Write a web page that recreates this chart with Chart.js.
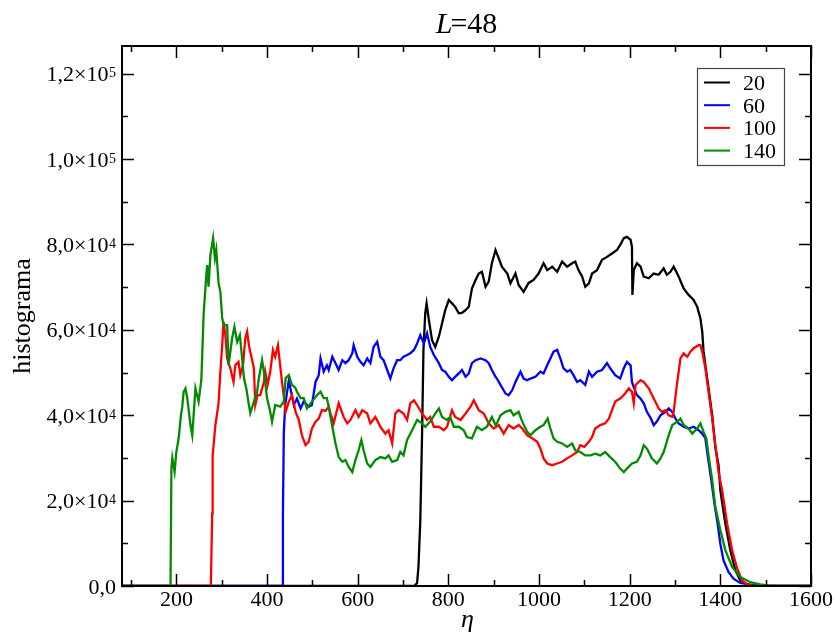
<!DOCTYPE html>
<html>
<head>
<meta charset="utf-8">
<script src="https://cdn.jsdelivr.net/npm/chart.js@4.4.1/dist/chart.umd.min.js"></script>
<style>
  body { margin: 0; background: #fff; }
  canvas { display: block; }
</style>
</head>
<body>
<canvas id="chart" width="836" height="633"></canvas>
<script>
// eta values and histogram counts, one pair of arrays per series
const eta20 = [80, 725, 731, 734, 738, 742, 745, 749, 752, 757,
  764, 771, 779, 786, 793, 801, 808, 815, 823, 830,
  838, 845, 852, 860, 867, 874, 882, 889, 896, 904,
  911, 918, 930, 937, 948, 955, 966, 977, 988, 999,
  1010, 1018, 1029, 1040, 1051, 1062, 1073, 1080, 1087, 1095,
  1102, 1110, 1117, 1128, 1139, 1150, 1161, 1172, 1179, 1187,
  1194, 1202, 1205, 1206, 1209, 1216, 1224, 1231, 1242, 1253,
  1264, 1275, 1282, 1290, 1297, 1308, 1319, 1330, 1341, 1349,
  1356, 1360, 1363, 1367, 1374, 1382, 1389, 1396, 1400, 1411,
  1422, 1433, 1444, 1459, 1475, 1600];
const h20 = [0, 0, 700, 4500, 15000, 35700, 55300, 63900, 66200, 62300,
  57600, 56000, 58400, 61500, 64600, 67000, 66200, 65400, 63900, 64000,
  64600, 65400, 69700, 71700, 73200, 73600, 70100, 71300, 75600, 78700,
  76800, 74800, 73200, 70900, 73200, 70500, 68900, 71000, 71700, 73200,
  75600, 74000, 74800, 73600, 76000, 74800, 75600, 76000, 74000, 72500,
  70100, 70900, 73200, 74000, 76400, 77100, 77900, 78700, 79900, 81500,
  81800, 81100, 79500, 68200, 74000, 75600, 74800, 72500, 72100, 73200,
  72900, 74400, 72900, 73600, 74800, 72500, 69700, 68200, 67000, 65400,
  62700, 59600, 54900, 51700, 46300, 40000, 32500, 28300, 22400, 14600,
  8400, 3700, 1300, 400, 0, 0];

const eta60 = [80, 433, 435, 437, 440, 448, 453, 459, 466, 474,
  481, 492, 499, 507, 514, 518, 525, 532, 536, 544,
  551, 558, 566, 573, 580, 588, 591, 599, 606, 613,
  621, 628, 635, 643, 650, 657, 665, 672, 679, 687,
  694, 701, 709, 716, 724, 731, 738, 746, 753, 760,
  768, 779, 786, 793, 801, 808, 815, 823, 830, 838,
  845, 852, 860, 871, 882, 889, 896, 904, 907, 915,
  926, 933, 941, 948, 959, 966, 974, 981, 992, 1003,
  1010, 1018, 1025, 1032, 1040, 1047, 1054, 1062, 1069, 1076,
  1084, 1091, 1102, 1110, 1117, 1128, 1139, 1150, 1157, 1168,
  1179, 1187, 1194, 1202, 1205, 1210, 1216, 1224, 1231, 1238,
  1246, 1253, 1260, 1268, 1279, 1286, 1294, 1301, 1308, 1319,
  1330, 1341, 1352, 1360, 1367, 1372, 1379, 1387, 1394, 1400,
  1407, 1418, 1429, 1444, 1466, 1495, 1600];
const h60 = [0, 0, 17000, 36000, 42400, 48200, 45500, 42400, 43900, 41600,
  43200, 42000, 42400, 47800, 49400, 53300, 50200, 51700, 50600, 53700,
  52200, 50600, 52900, 52200, 52900, 54500, 56400, 53700, 52500, 51700,
  53300, 52200, 56000, 57200, 53700, 52900, 50600, 48600, 51000, 52900,
  52900, 53700, 54100, 54500, 55300, 56800, 58800, 56800, 59200, 56000,
  54100, 52200, 50600, 50200, 49000, 48200, 49000, 49800, 50600, 49000,
  49800, 52200, 52900, 53300, 52900, 52200, 50600, 49000, 48600, 47100,
  45100, 44700, 45900, 47800, 50200, 48600, 48200, 48600, 49000, 50200,
  49800, 51700, 53300, 54900, 55300, 53300, 51000, 50200, 50600, 49400,
  47800, 48200, 47100, 50200, 49000, 50200, 50600, 52200, 51000, 49400,
  48600, 51000, 52500, 51700, 47800, 46300, 44700, 43900, 42800, 40800,
  39400, 37700, 38500, 40000, 40800, 41600, 40800, 39200, 38100, 37300,
  36900, 37300, 36500, 35700, 34600, 30600, 25600, 19300, 14600, 9900,
  6000, 3300, 1700, 700, 330, 0, 0];

const eta100 = [80, 276, 279, 280, 286, 293, 297, 301, 304, 308,
  312, 319, 326, 330, 337, 341, 347, 352, 356, 360,
  363, 371, 374, 379, 385, 393, 396, 401, 407, 413,
  418, 424, 428, 433, 441, 448, 455, 463, 470, 477,
  485, 492, 499, 507, 514, 521, 529, 536, 540, 547,
  558, 569, 577, 584, 595, 602, 610, 621, 628, 639,
  650, 661, 668, 676, 683, 690, 701, 709, 716, 724,
  731, 742, 753, 760, 768, 779, 790, 797, 808, 815,
  827, 838, 849, 856, 867, 878, 889, 900, 911, 922,
  933, 944, 955, 963, 974, 985, 996, 1003, 1010, 1018,
  1029, 1040, 1051, 1062, 1073, 1084, 1091, 1100, 1110, 1117,
  1124, 1135, 1146, 1154, 1161, 1168, 1179, 1190, 1198, 1205,
  1209, 1213, 1224, 1231, 1242, 1253, 1264, 1271, 1279, 1286,
  1294, 1297, 1305, 1312, 1319, 1327, 1334, 1341, 1352, 1356,
  1360, 1367, 1374, 1382, 1389, 1396, 1404, 1415, 1426, 1437,
  1448, 1459, 1475, 1600];
const h100 = [0, 0, 17000, 30600, 37700, 42800, 50200, 56400, 61900, 58800,
  53300, 51000, 47800, 51700, 52500, 49400, 51700, 58000, 59600, 56400,
  54900, 51000, 42400, 44700, 44700, 47800, 50200, 47100, 50200, 55300,
  53700, 56400, 52500, 47800, 40800, 43200, 44700, 40800, 38900, 35300,
  33000, 33800, 36900, 38500, 39200, 41200, 41000, 42000, 40400, 38100,
  42800, 39600, 38100, 38900, 41200, 39600, 41200, 40400, 38100, 39600,
  37300, 35700, 36500, 33400, 40400, 41200, 40400, 38900, 42800, 43500,
  42400, 40400, 38900, 39600, 37300, 37300, 36500, 37300, 41200, 39600,
  38900, 40400, 42000, 43500, 41200, 40400, 38100, 36900, 37700, 35700,
  37700, 36900, 37700, 36900, 35300, 34600, 33800, 32200, 29900, 28700,
  28300, 28700, 29100, 29900, 30600, 31400, 33000, 32600, 33800, 34900,
  36900, 37700, 38100, 39200, 41200, 43200, 43900, 45100, 46300, 45500,
  42800, 47100, 48200, 47800, 46300, 43900, 41600, 40800, 41200, 40000,
  39600, 40800, 47800, 53300, 54500, 53700, 54900, 55700, 56400, 56400,
  54900, 51000, 45500, 39200, 33000, 26700, 22400, 14600, 8400, 4100,
  1300, 400, 0, 0];

const eta140 = [80, 187, 189, 191, 196, 200, 205, 210, 213, 216,
  220, 224, 231, 235, 242, 249, 255, 260, 266, 268,
  271, 275, 281, 285, 288, 293, 297, 301, 304, 312,
  315, 323, 328, 334, 340, 345, 349, 354, 360, 363,
  371, 378, 382, 389, 393, 400, 407, 411, 418, 429,
  437, 441, 448, 455, 462, 466, 474, 481, 488, 499,
  510, 518, 525, 532, 536, 544, 551, 558, 566, 573,
  580, 588, 595, 602, 608, 613, 621, 628, 639, 650,
  661, 668, 676, 687, 694, 701, 709, 720, 731, 742,
  749, 760, 771, 779, 786, 797, 804, 812, 823, 834,
  841, 852, 863, 874, 885, 896, 904, 907, 915, 926,
  937, 944, 955, 963, 974, 981, 992, 1003, 1010, 1019,
  1025, 1032, 1040, 1051, 1062, 1073, 1080, 1091, 1102, 1113,
  1124, 1135, 1146, 1157, 1168, 1179, 1187, 1194, 1205, 1216,
  1224, 1231, 1238, 1249, 1260, 1268, 1275, 1286, 1294, 1305,
  1312, 1319, 1330, 1338, 1349, 1356, 1363, 1369, 1374, 1382,
  1389, 1400, 1411, 1426, 1444, 1466, 1488, 1503, 1520, 1600];
const h140 = [0, 0, 27600, 30000, 26800, 31500, 34600, 40000, 42000, 45500,
  46300, 44000, 37700, 35300, 46300, 43200, 48200, 63500, 72900, 75200,
  70100, 77500, 81500, 76800, 78700, 71000, 68900, 62800, 61100, 61100,
  51700, 58100, 60700, 57200, 58800, 53400, 48700, 46400, 42400, 40500,
  43200, 45500, 48700, 52900, 50200, 44000, 40800, 38500, 42400, 42000,
  43200, 48700, 49400, 47100, 46500, 45500, 44000, 44000, 41600, 43200,
  44700, 45500, 44000, 44000, 42000, 37300, 33400, 30200, 29100, 29500,
  27900, 26700, 29500, 31800, 34200, 31800, 28700, 27900, 29500, 30200,
  29900, 30600, 29100, 29500, 31400, 30600, 34200, 36500, 38900, 38100,
  37300, 38500, 40400, 41600, 39600, 38900, 39600, 37300, 37300, 36500,
  34900, 34600, 37300, 36500, 37300, 39600, 37700, 38100, 40000, 40800,
  41200, 40000, 40800, 38500, 36100, 35300, 36500, 37300, 37700, 39200,
  36900, 34600, 33800, 33400, 32600, 33400, 31800, 31400, 30600, 30600,
  31000, 30600, 31400, 30200, 29100, 27500, 26700, 27500, 28700, 29100,
  30600, 33000, 32200, 29900, 28700, 29900, 31400, 35300, 37700, 38500,
  39200, 37700, 36900, 35700, 36900, 38100, 36100, 34600, 30600, 24800,
  18500, 13100, 8400, 4500, 2100, 900, 400, 160, 0, 0];

const seriesLabels = ['20', '60', '100', '140'];
const seriesColors = ['#000000', '#0000ff', '#ff0000', '#008b00'];

const xTicks = [200, 400, 600, 800, 1000, 1200, 1400, 1600];
const xMinorTicks = [100, 300, 500, 700, 900, 1100, 1300, 1500];
const yTicks = [0, 20000, 40000, 60000, 80000, 100000, 120000];
const yMinorTicks = [10000, 30000, 50000, 70000, 90000, 110000];
const yTickMant = ['0,0', '2,0\u00d710', '4,0\u00d710', '6,0\u00d710', '8,0\u00d710', '1,0\u00d710', '1,2\u00d710'];
const yTickExp = ['', '4', '4', '4', '4', '5', '5'];

const SERIF = '"Liberation Serif", "Times New Roman", serif';

function zip(xs, ys) {
  return xs.map((x, i) => ({x: x, y: ys[i]}));
}

const allEta = [eta20, eta60, eta100, eta140];
const allH = [h20, h60, h100, h140];

const datasets = seriesLabels.map((lab, i) => ({
  label: lab,
  data: zip(allEta[i], allH[i]),
  borderColor: seriesColors[i],
  borderWidth: 2.3,
  pointRadius: 0,
  tension: 0,
  fill: false,
  order: seriesLabels.length - i
}));

// frame, inward ticks on every side, labels, titles and legend
const decorations = {
  id: 'decorations',
  afterDatasetsDraw(chart) {
    const ctx = chart.ctx;
    const a = chart.chartArea;
    const xs = chart.scales.x;
    const ys = chart.scales.y;
    ctx.save();
    ctx.strokeStyle = '#000';
    ctx.fillStyle = '#000';

    ctx.lineWidth = 1.5;
    ctx.beginPath();
    const vtick = (v, len) => {
      const px = Math.round(xs.getPixelForValue(v)) + 0.5;
      ctx.moveTo(px, a.bottom); ctx.lineTo(px, a.bottom - len);
      ctx.moveTo(px, a.top); ctx.lineTo(px, a.top + len);
    };
    const htick = (v, len) => {
      const py = Math.round(ys.getPixelForValue(v)) + 0.5;
      ctx.moveTo(a.left, py); ctx.lineTo(a.left + len, py);
      ctx.moveTo(a.right, py); ctx.lineTo(a.right - len, py);
    };
    xTicks.forEach(v => vtick(v, 12));
    xMinorTicks.forEach(v => vtick(v, 6));
    yTicks.forEach(v => htick(v, 12));
    yMinorTicks.forEach(v => htick(v, 6));
    ctx.stroke();

    ctx.lineWidth = 2;
    ctx.strokeRect(a.left, a.top, a.right - a.left, a.bottom - a.top);

    // x tick labels
    ctx.font = '22px ' + SERIF;
    ctx.textAlign = 'center';
    ctx.textBaseline = 'alphabetic';
    xTicks.forEach(v => {
      ctx.fillText(String(v), xs.getPixelForValue(v), a.bottom + 20);
    });

    // y tick labels with superscript exponent
    const rightEdge = a.left - 6;
    yTicks.forEach((v, i) => {
      const py = ys.getPixelForValue(v);
      ctx.textAlign = 'right';
      let x = rightEdge;
      if (yTickExp[i]) {
        ctx.font = '14px ' + SERIF;
        ctx.fillText(yTickExp[i], x, py + 3.5);
        x -= ctx.measureText(yTickExp[i]).width + 0.5;
      }
      ctx.font = '22px ' + SERIF;
      ctx.fillText(yTickMant[i], x, py + 7.5);
    });

    // title L=48
    const cx = (a.left + a.right) / 2;
    ctx.textAlign = 'left';
    ctx.font = 'italic 30px ' + SERIF;
    const wL = ctx.measureText('L').width;
    ctx.font = '30px ' + SERIF;
    const wR = ctx.measureText('=48').width;
    const tx = cx - (wL + wR - 2) / 2;
    ctx.font = 'italic 30px ' + SERIF;
    ctx.fillText('L', tx, 33);
    ctx.font = '30px ' + SERIF;
    ctx.fillText('=48', tx + wL - 2, 33);

    // axis titles
    ctx.textAlign = 'center';
    ctx.font = 'italic 26px ' + SERIF;
    ctx.fillText('\u03b7', cx + 1, a.bottom + 41);

    ctx.save();
    ctx.translate(30, (a.top + a.bottom) / 2);
    ctx.rotate(-Math.PI / 2);
    ctx.font = '26px ' + SERIF;
    ctx.fillText('histograma', 0, 0);
    ctx.restore();

    // legend box
    const bx = 697, by = 68, bw = 87, bh = 97;
    ctx.fillStyle = '#fff';
    ctx.fillRect(bx, by, bw, bh);
    ctx.strokeStyle = '#444';
    ctx.lineWidth = 1.2;
    ctx.strokeRect(bx + 0.5, by + 0.5, bw, bh);
    ctx.font = '22px ' + SERIF;
    ctx.textAlign = 'left';
    chart.data.datasets.forEach((ds, i) => {
      const ly = 82.5 + i * 22.7;
      ctx.strokeStyle = ds.borderColor;
      ctx.lineWidth = 2;
      ctx.beginPath();
      ctx.moveTo(704, ly);
      ctx.lineTo(730, ly);
      ctx.stroke();
      ctx.fillStyle = '#000';
      ctx.fillText(ds.label, 743, ly + 7.5);
    });
    ctx.restore();
  }
};

new Chart(document.getElementById('chart'), {
  type: 'line',
  data: { datasets: datasets },
  options: {
    responsive: false,
    animation: false,
    parsing: true,
    layout: { padding: { left: 122, right: 25, top: 46, bottom: 47 } },
    scales: {
      x: { type: 'linear', min: 80, max: 1600, display: false },
      y: { type: 'linear', min: 0, max: 126500, display: false }
    },
    plugins: {
      legend: { display: false },
      tooltip: { enabled: false },
      title: { display: false }
    }
  },
  plugins: [decorations]
});
</script>
</body>
</html>
